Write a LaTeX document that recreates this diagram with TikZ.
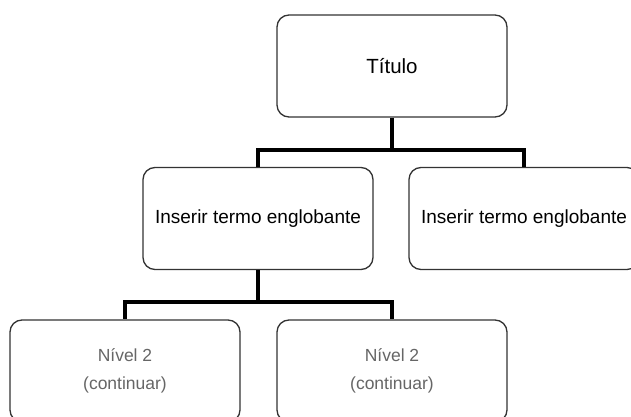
\documentclass[tikz,border=0pt]{standalone}
\usepackage{fontspec}
\setmainfont{Liberation Sans}
\begin{document}
\begin{tikzpicture}[x=1pt,y=-1pt,
  box/.style={draw=black!80, line width=1.3pt, rounded corners=12pt, minimum width=230pt, minimum height=102pt, inner sep=0pt, align=center, font=\fontsize{19}{28}\selectfont, text=black},
  sub/.style={box, text=black!60, font=\fontsize{17.5}{28}\selectfont},
  conn/.style={draw=black, line width=3.2pt}]
\useasboundingbox (0,0) rectangle (631,417);
\clip (0,0) rectangle (631,417);
\fill[white] (0,0) rectangle (631,417);
\node[box, font=\fontsize{20.5}{28}\selectfont] (t) at (392,66) {Título};
\node[box] (m1) at (258,218.5) {Inserir termo englobante};
\node[box] (m2) at (524,218.5) {Inserir termo englobante};
\node[sub] (b1) at (125,371) {Nível 2\\(continuar)};
\node[sub] (b2) at (392,371) {Nível 2\\(continuar)};
\coordinate (j1) at (392,150);
\coordinate (j2) at (258,302);
\draw[conn] (t.south) -- (j1);
\draw[conn] (j1) -| (m1.north);
\draw[conn] (j1) -| (m2.north);
\draw[conn] (m1.south) -- (j2);
\draw[conn] (j2) -| (b1.north);
\draw[conn] (j2) -| (b2.north);
\end{tikzpicture}
\end{document}
